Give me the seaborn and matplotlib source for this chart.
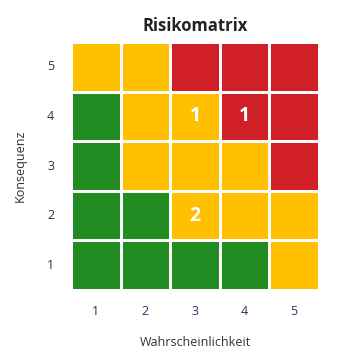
import numpy as np
import pandas as pd
import matplotlib
matplotlib.use("Agg")
import matplotlib.pyplot as plt
from matplotlib.colors import ListedColormap
import seaborn as sns

wahrscheinlichkeit = [1, 2, 3, 4, 5]
konsequenz = [5, 4, 3, 2, 1]  # top to bottom

# risk level per cell: 0 = green, 1 = yellow, 2 = red
risk_k5 = [1, 1, 2, 2, 2]
risk_k4 = [0, 1, 1, 2, 2]
risk_k3 = [0, 1, 1, 1, 2]
risk_k2 = [0, 0, 1, 1, 1]
risk_k1 = [0, 0, 0, 0, 1]

# number of risks per cell
count_k5 = [0, 0, 0, 0, 0]
count_k4 = [0, 0, 1, 1, 0]
count_k3 = [0, 0, 0, 0, 0]
count_k2 = [0, 0, 2, 0, 0]
count_k1 = [0, 0, 0, 0, 0]

level_colors = ["#228B22", "#FFC000", "#D01F27"]

risk = pd.DataFrame([risk_k5, risk_k4, risk_k3, risk_k2, risk_k1],
                    index=konsequenz, columns=wahrscheinlichkeit)
counts = np.array([count_k5, count_k4, count_k3, count_k2, count_k1])
annot = np.where(counts > 0, counts.astype(str), "")

sns.set_theme(style="white")
plt.rcParams['font.family'] = ['Open Sans', 'DejaVu Sans']

fig = plt.figure(figsize=(3.39, 3.64), dpi=100)
ax = fig.add_axes([71/339, 74/364, 248/339, 248/364])

sns.heatmap(risk, ax=ax, cmap=ListedColormap(level_colors), vmin=-0.5, vmax=2.5,
            cbar=False, linewidths=2, linecolor="white", square=False,
            annot=annot, fmt="",
            annot_kws={"color": "white", "fontsize": 14, "fontweight": "bold"})

ax.set_title("Risikomatrix", fontsize=12, fontweight="bold", color="#222222", pad=8)
ax.set_xlabel("Wahrscheinlichkeit", fontsize=9, color="#333333", labelpad=13)
ax.set_ylabel("Konsequenz", fontsize=9, color="#333333", labelpad=15)
ax.tick_params(axis="x", labelsize=9, labelcolor="#1F3A5F", length=0, pad=11)
ax.tick_params(axis="y", labelsize=9, labelcolor="#333333", length=0, pad=12, rotation=0)

fig.savefig("out.png", dpi=100)
